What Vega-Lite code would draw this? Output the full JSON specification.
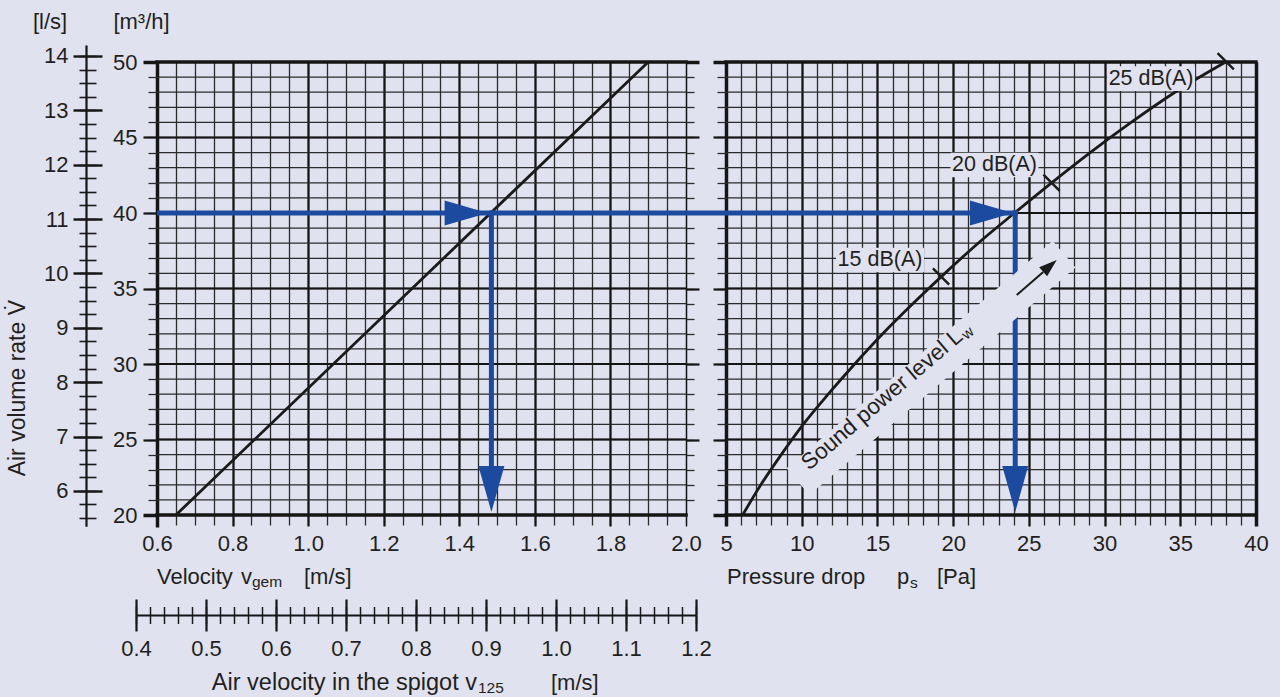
{
"$schema":"https://vega.github.io/schema/vega-lite/v6.json",
"background":"#e1e2f0",
"autosize":{"type":"none"},
"padding":{"left":157,"top":62,"right":24,"bottom":182},
"width":1099,"height":453,
"config":{"view":{"stroke":null},"axis":{"labelFont":"Liberation Sans","labelFontSize":22,"labelColor":"#231f20","labelFlush":false,"labelOverlap":false},"text":{"font":"Liberation Sans","fontSize":22,"color":"#231f20"}},
"resolve":{"scale":{"x":"independent","y":"independent"},"axis":{"x":"independent","y":"independent"}},
"layer":[
{"data":{"values":[{"m3h":20},{"m3h":21},{"m3h":22},{"m3h":23},{"m3h":24},{"m3h":25},{"m3h":26},{"m3h":27},{"m3h":28},{"m3h":29},{"m3h":30},{"m3h":31},{"m3h":32},{"m3h":33},{"m3h":34},{"m3h":35},{"m3h":36},{"m3h":37},{"m3h":38},{"m3h":39},{"m3h":40},{"m3h":41},{"m3h":42},{"m3h":43},{"m3h":44},{"m3h":45},{"m3h":46},{"m3h":47},{"m3h":48},{"m3h":49},{"m3h":50}]},"mark":{"type":"rule","color":"#2b2b2b","strokeWidth":1.3},"encoding":{"y":{"field":"m3h","type":"quantitative","scale":{"domain":[20,50],"nice":false,"zero":false},"axis":null},"x":{"datum":0.6,"type":"quantitative","scale":{"domain":[0.6,2.0],"range":[0,529],"nice":false,"zero":false},"axis":null},"x2":{"datum":2.0}}},
{"data":{"values":[{"m3h":25},{"m3h":30},{"m3h":35},{"m3h":40},{"m3h":45}]},"mark":{"type":"rule","color":"#151515","strokeWidth":2.2},"encoding":{"y":{"field":"m3h","type":"quantitative","scale":{"domain":[20,50],"nice":false,"zero":false},"axis":null},"x":{"datum":0.6,"type":"quantitative","scale":{"domain":[0.6,2.0],"range":[0,529],"nice":false,"zero":false},"axis":null},"x2":{"datum":2.0}}},
{"data":{"values":[{"m3h":20},{"m3h":50}]},"mark":{"type":"rule","color":"#151515","strokeWidth":3.5,"strokeCap":"square"},"encoding":{"y":{"field":"m3h","type":"quantitative","scale":{"domain":[20,50],"nice":false,"zero":false},"axis":null},"x":{"datum":0.6,"type":"quantitative","scale":{"domain":[0.6,2.0],"range":[0,529],"nice":false,"zero":false},"axis":null},"x2":{"datum":2.0}}},
{"data":{"values":[{"m3h":20},{"m3h":21},{"m3h":22},{"m3h":23},{"m3h":24},{"m3h":25},{"m3h":26},{"m3h":27},{"m3h":28},{"m3h":29},{"m3h":30},{"m3h":31},{"m3h":32},{"m3h":33},{"m3h":34},{"m3h":35},{"m3h":36},{"m3h":37},{"m3h":38},{"m3h":39},{"m3h":40},{"m3h":41},{"m3h":42},{"m3h":43},{"m3h":44},{"m3h":45},{"m3h":46},{"m3h":47},{"m3h":48},{"m3h":49},{"m3h":50}]},"mark":{"type":"rule","color":"#2b2b2b","strokeWidth":1.3},"encoding":{"y":{"field":"m3h","type":"quantitative","scale":{"domain":[20,50],"nice":false,"zero":false},"axis":null},"x":{"datum":5,"type":"quantitative","scale":{"domain":[5,40],"range":[569,1099],"nice":false,"zero":false},"axis":null},"x2":{"datum":40}}},
{"data":{"values":[{"m3h":25},{"m3h":30},{"m3h":35},{"m3h":40},{"m3h":45}]},"mark":{"type":"rule","color":"#151515","strokeWidth":2.2},"encoding":{"y":{"field":"m3h","type":"quantitative","scale":{"domain":[20,50],"nice":false,"zero":false},"axis":null},"x":{"datum":5,"type":"quantitative","scale":{"domain":[5,40],"range":[569,1099],"nice":false,"zero":false},"axis":null},"x2":{"datum":40}}},
{"data":{"values":[{"m3h":20},{"m3h":50}]},"mark":{"type":"rule","color":"#151515","strokeWidth":3.5,"strokeCap":"square"},"encoding":{"y":{"field":"m3h","type":"quantitative","scale":{"domain":[20,50],"nice":false,"zero":false},"axis":null},"x":{"datum":5,"type":"quantitative","scale":{"domain":[5,40],"range":[569,1099],"nice":false,"zero":false},"axis":null},"x2":{"datum":40}}},
{"data":{"values":[{}]},"mark":{"type":"point","opacity":0},"encoding":{"x":{"field":"vel","type":"quantitative","scale":{"domain":[0.6,2.0],"range":[0,529],"nice":false,"zero":false},"axis":{"orient":"bottom","values":[0.6,0.65,0.7,0.75,0.8,0.85,0.9,0.95,1.0,1.05,1.1,1.15,1.2,1.25,1.3,1.35,1.4,1.45,1.5,1.55,1.6,1.65,1.7,1.75,1.8,1.85,1.9,1.95,2.0],"grid":true,"gridColor":"#2b2b2b","gridWidth":1.3,"tickSize":10,"tickColor":"#2b2b2b","tickWidth":1.3,"labels":false,"domain":false,"title":null}}}},
{"data":{"values":[{}]},"mark":{"type":"point","opacity":0},"encoding":{"x":{"field":"vel","type":"quantitative","scale":{"domain":[0.6,2.0],"range":[0,529],"nice":false,"zero":false},"axis":{"orient":"bottom","values":[0.6,0.8,1.0,1.2,1.4,1.6,1.8,2.0],"grid":true,"gridColor":"#151515","gridWidth":{"condition":{"test":"datum.value > 1.99","value":1.3},"value":2.2},"tickSize":11,"tickColor":"#151515","tickWidth":{"condition":{"test":"datum.value > 1.99","value":1.3},"value":2.2},"labels":true,"format":".1f","labelPadding":7,"domain":false,"title":null}}}},
{"data":{"values":[{}]},"mark":{"type":"point","opacity":0},"encoding":{"x":{"field":"vel","type":"quantitative","scale":{"domain":[0.6,2.0],"range":[0,529],"nice":false,"zero":false},"axis":{"orient":"bottom","values":[0.6],"grid":true,"gridColor":"#151515","gridWidth":3.5,"tickSize":12,"tickColor":"#151515","tickWidth":3.5,"labels":false,"domain":false,"title":null}}}},
{"data":{"values":[{}]},"mark":{"type":"point","opacity":0},"encoding":{"x":{"field":"p","type":"quantitative","scale":{"domain":[5,40],"range":[569,1099],"nice":false,"zero":false},"axis":{"orient":"bottom","values":[5,6,7,8,9,10,11,12,13,14,15,16,17,18,19,20,21,22,23,24,25,26,27,28,29,30,31,32,33,34,35,36,37,38,39,40],"grid":true,"gridColor":"#2b2b2b","gridWidth":1.3,"tickSize":10,"tickColor":"#2b2b2b","tickWidth":1.3,"labels":false,"domain":false,"title":null}}}},
{"data":{"values":[{}]},"mark":{"type":"point","opacity":0},"encoding":{"x":{"field":"p","type":"quantitative","scale":{"domain":[5,40],"range":[569,1099],"nice":false,"zero":false},"axis":{"orient":"bottom","values":[5,10,15,20,25,30,35,40],"grid":true,"gridColor":"#151515","gridWidth":{"condition":{"test":"datum.value == 5 || datum.value == 40","value":3.5},"value":2.2},"tickSize":11,"tickColor":"#151515","tickWidth":{"condition":{"test":"datum.value == 5 || datum.value == 40","value":3.5},"value":2.2},"labels":true,"format":"d","labelPadding":7,"domain":false,"title":null}}}},
{"data":{"values":[{}]},"mark":{"type":"point","opacity":0},"encoding":{"y":{"field":"m3h","type":"quantitative","scale":{"domain":[20,50],"nice":false,"zero":false},"axis":{"orient":"left","values":[20,21,22,23,24,25,26,27,28,29,30,31,32,33,34,35,36,37,38,39,40,41,42,43,44,45,46,47,48,49,50],"grid":false,"tickSize":9,"tickColor":"#2b2b2b","tickWidth":1.3,"labels":false,"domain":false,"title":null}}}},
{"data":{"values":[{}]},"mark":{"type":"point","opacity":0},"encoding":{"y":{"field":"m3h","type":"quantitative","scale":{"domain":[20,50],"nice":false,"zero":false},"axis":{"orient":"left","values":[20,25,30,35,40,45,50],"grid":false,"tickSize":14,"tickColor":"#151515","tickWidth":{"condition":{"test":"datum.value == 20 || datum.value == 50","value":3.5},"value":2.2},"labels":true,"format":"d","labelPadding":6,"domain":false,"title":null}}}},
{"data":{"values":[{}]},"mark":{"type":"point","opacity":0},"encoding":{"y":{"field":"m3h","type":"quantitative","scale":{"domain":[20,50],"nice":false,"zero":false},"axis":{"orient":"right","offset":-570,"values":[21,22,23,24,25,26,27,28,29,30,31,32,33,34,35,36,37,38,39,40,41,42,43,44,45,46,47,48,49,50],"grid":false,"tickSize":8,"tickColor":"#2b2b2b","tickWidth":1.3,"labels":false,"domain":false,"title":null}}}},
{"data":{"values":[{}]},"mark":{"type":"point","opacity":0},"encoding":{"y":{"field":"m3h","type":"quantitative","scale":{"domain":[20,50],"nice":false,"zero":false},"axis":{"orient":"right","offset":-570,"values":[25,30,35,40,45,50],"grid":false,"tickSize":13,"tickColor":"#151515","tickWidth":{"condition":{"test":"datum.value == 50","value":3.5},"value":2.2},"labels":false,"domain":false,"title":null}}}},
{"data":{"values":[{}]},"mark":{"type":"point","opacity":0},"encoding":{"y":{"field":"m3h","type":"quantitative","scale":{"domain":[20,50],"nice":false,"zero":false},"axis":{"orient":"left","offset":-569,"values":[20,21,22,23,24,25,26,27,28,29,30,31,32,33,34,35,36,37,38,39,40,41,42,43,44,45,46,47,48,49,50],"grid":false,"tickSize":9,"tickColor":"#2b2b2b","tickWidth":1.3,"labels":false,"domain":false,"title":null}}}},
{"data":{"values":[{}]},"mark":{"type":"point","opacity":0},"encoding":{"y":{"field":"m3h","type":"quantitative","scale":{"domain":[20,50],"nice":false,"zero":false},"axis":{"orient":"left","offset":-569,"values":[20,25,30,35,40,45,50],"grid":false,"tickSize":13,"tickColor":"#151515","tickWidth":{"condition":{"test":"datum.value == 20 || datum.value == 50","value":3.5},"value":2.2},"labels":false,"domain":false,"title":null}}}},
{"data":{"values":[{}]},"mark":{"type":"point","opacity":0},"encoding":{"y":{"field":"ls","type":"quantitative","scale":{"domain":[5.35,14.2],"range":[464.2,-16.9],"nice":false,"zero":false},"axis":{"orient":"left","offset":71,"values":[6,7,8,9,10,11,12,13,14],"grid":false,"tickSize":13,"tickColor":"#151515","tickWidth":2.4,"labels":true,"format":"d","labelPadding":5,"domain":true,"domainColor":"#151515","domainWidth":2.2,"title":null}}}},
{"data":{"values":[{}]},"mark":{"type":"point","opacity":0},"encoding":{"y":{"field":"ls","type":"quantitative","scale":{"domain":[5.35,14.2],"range":[464.2,-16.9],"nice":false,"zero":false},"axis":{"orient":"left","offset":71,"values":[6,7,8,9,10,11,12,13,14],"grid":false,"tickSize":-16,"tickColor":"#151515","tickWidth":2.4,"labels":false,"domain":false,"title":null}}}},
{"data":{"values":[{}]},"mark":{"type":"point","opacity":0},"encoding":{"y":{"field":"ls","type":"quantitative","scale":{"domain":[5.35,14.2],"range":[464.2,-16.9],"nice":false,"zero":false},"axis":{"orient":"left","offset":71,"values":[5.5,5.75,6,6.25,6.5,6.75,7,7.25,7.5,7.75,8,8.25,8.5,8.75,9,9.25,9.5,9.75,10,10.25,10.5,10.75,11,11.25,11.5,11.75,12,12.25,12.5,12.75,13,13.25,13.5,13.75,14],"grid":false,"tickSize":7,"tickColor":"#1a1a1a","tickWidth":1.6,"labels":false,"domain":false,"title":null}}}},
{"data":{"values":[{}]},"mark":{"type":"point","opacity":0},"encoding":{"y":{"field":"ls","type":"quantitative","scale":{"domain":[5.35,14.2],"range":[464.2,-16.9],"nice":false,"zero":false},"axis":{"orient":"left","offset":71,"values":[5.5,5.75,6,6.25,6.5,6.75,7,7.25,7.5,7.75,8,8.25,8.5,8.75,9,9.25,9.5,9.75,10,10.25,10.5,10.75,11,11.25,11.5,11.75,12,12.25,12.5,12.75,13,13.25,13.5,13.75,14],"grid":false,"tickSize":-10,"tickColor":"#1a1a1a","tickWidth":1.6,"labels":false,"domain":false,"title":null}}}},
{"data":{"values":[{}]},"mark":{"type":"point","opacity":0},"encoding":{"x":{"field":"spg","type":"quantitative","scale":{"domain":[0.4,1.2],"range":[-21,539],"nice":false,"zero":false},"axis":{"orient":"bottom","offset":100,"values":[0.4,0.5,0.6,0.7,0.8,0.9,1.0,1.1,1.2],"grid":false,"tickSize":16,"tickColor":"#151515","tickWidth":2.2,"labels":true,"format":".1f","labelPadding":7,"domain":true,"domainColor":"#151515","domainWidth":2.2,"title":null}}}},
{"data":{"values":[{}]},"mark":{"type":"point","opacity":0},"encoding":{"x":{"field":"spg","type":"quantitative","scale":{"domain":[0.4,1.2],"range":[-21,539],"nice":false,"zero":false},"axis":{"orient":"bottom","offset":100,"values":[0.4,0.5,0.6,0.7,0.8,0.9,1.0,1.1,1.2],"grid":false,"tickSize":-16,"tickColor":"#151515","tickWidth":2.2,"labels":false,"domain":false,"title":null}}}},
{"data":{"values":[{}]},"mark":{"type":"point","opacity":0},"encoding":{"x":{"field":"spg","type":"quantitative","scale":{"domain":[0.4,1.2],"range":[-21,539],"nice":false,"zero":false},"axis":{"orient":"bottom","offset":100,"values":[0.4,0.42,0.44,0.46,0.48,0.5,0.52,0.54,0.56,0.58,0.6,0.62,0.64,0.66,0.68,0.7,0.72,0.74,0.76,0.78,0.8,0.82,0.84,0.86,0.88,0.9,0.92,0.94,0.96,0.98,1.0,1.02,1.04,1.06,1.08,1.1,1.12,1.14,1.16,1.18,1.2],"grid":false,"tickSize":8.5,"tickColor":"#1a1a1a","tickWidth":1.5,"labels":false,"domain":false,"title":null}}}},
{"data":{"values":[{}]},"mark":{"type":"point","opacity":0},"encoding":{"x":{"field":"spg","type":"quantitative","scale":{"domain":[0.4,1.2],"range":[-21,539],"nice":false,"zero":false},"axis":{"orient":"bottom","offset":100,"values":[0.4,0.42,0.44,0.46,0.48,0.5,0.52,0.54,0.56,0.58,0.6,0.62,0.64,0.66,0.68,0.7,0.72,0.74,0.76,0.78,0.8,0.82,0.84,0.86,0.88,0.9,0.92,0.94,0.96,0.98,1.0,1.02,1.04,1.06,1.08,1.1,1.12,1.14,1.16,1.18,1.2],"grid":false,"tickSize":-8.5,"tickColor":"#1a1a1a","tickWidth":1.5,"labels":false,"domain":false,"title":null}}}},
{"data":{"values":[{"vel":0.65,"m3h":20},{"vel":1.9,"m3h":50}]},"mark":{"type":"line","color":"#1a1a1a","strokeWidth":2.8},"encoding":{"x":{"field":"vel","type":"quantitative","scale":{"domain":[0.6,2.0],"range":[0,529],"nice":false,"zero":false},"axis":null},"y":{"field":"m3h","type":"quantitative","scale":{"domain":[20,50],"nice":false,"zero":false},"axis":null}}},
{"data":{"values":[{"p":6.1,"m3h":20},{"p":7.3,"m3h":22},{"p":8.65,"m3h":24},{"p":10.1,"m3h":26},{"p":11.75,"m3h":28},{"p":13.5,"m3h":30},{"p":15.35,"m3h":32},{"p":17.35,"m3h":34},{"p":19.45,"m3h":36},{"p":21.65,"m3h":38},{"p":24.05,"m3h":40},{"p":26.5,"m3h":42},{"p":29.05,"m3h":44},{"p":31.75,"m3h":46},{"p":34.65,"m3h":48},{"p":38.0,"m3h":50}]},"mark":{"type":"line","color":"#1a1a1a","strokeWidth":2.8,"interpolate":"monotone"},"encoding":{"x":{"field":"p","type":"quantitative","scale":{"domain":[5,40],"range":[569,1099],"nice":false,"zero":false},"axis":null},"y":{"field":"m3h","type":"quantitative","scale":{"domain":[20,50],"nice":false,"zero":false},"axis":null}}},
{"data":{"values":[{"vel":0.6,"vel2":2.0,"m3h":40}]},"mark":{"type":"rule","color":"#1c4a9f","strokeWidth":5,"strokeCap":"butt"},"encoding":{"x":{"field":"vel","type":"quantitative","scale":{"domain":[0.6,2.0],"range":[0,529],"nice":false,"zero":false},"axis":null},"x2":{"field":"vel2"},"y":{"field":"m3h","type":"quantitative","scale":{"domain":[20,50],"nice":false,"zero":false},"axis":null}}},
{"data":{"values":[{"p":2.358,"p2":24.265,"m3h":40}]},"mark":{"type":"rule","color":"#1c4a9f","strokeWidth":5,"strokeCap":"butt"},"encoding":{"x":{"field":"p","type":"quantitative","scale":{"domain":[5,40],"range":[569,1099],"nice":false,"zero":false},"axis":null},"x2":{"field":"p2"},"y":{"field":"m3h","type":"quantitative","scale":{"domain":[20,50],"nice":false,"zero":false},"axis":null}}},
{"data":{"values":[{"vel":1.485,"m3h":40.17,"m3h2":22.5}]},"mark":{"type":"rule","color":"#1c4a9f","strokeWidth":5,"strokeCap":"butt"},"encoding":{"x":{"field":"vel","type":"quantitative","scale":{"domain":[0.6,2.0],"range":[0,529],"nice":false,"zero":false},"axis":null},"y":{"field":"m3h","type":"quantitative","scale":{"domain":[20,50],"nice":false,"zero":false},"axis":null},"y2":{"field":"m3h2"}}},
{"data":{"values":[{"p":24.1,"m3h":40.17,"m3h2":22.5}]},"mark":{"type":"rule","color":"#1c4a9f","strokeWidth":5,"strokeCap":"butt"},"encoding":{"x":{"field":"p","type":"quantitative","scale":{"domain":[5,40],"range":[569,1099],"nice":false,"zero":false},"axis":null},"y":{"field":"m3h","type":"quantitative","scale":{"domain":[20,50],"nice":false,"zero":false},"axis":null},"y2":{"field":"m3h2"}}},
{"data":{"values":[{"vel":1.475,"m3h":40}]},"mark":{"type":"point","shape":"M 0 0 L -2 -0.58 L -2 0.58 Z","size":1849,"filled":true,"color":"#1c4a9f","opacity":1,"strokeWidth":0},"encoding":{"x":{"field":"vel","type":"quantitative","scale":{"domain":[0.6,2.0],"range":[0,529],"nice":false,"zero":false},"axis":null},"y":{"field":"m3h","type":"quantitative","scale":{"domain":[20,50],"nice":false,"zero":false},"axis":null}}},
{"data":{"values":[{"vel":1.485,"m3h":20.2}]},"mark":{"type":"point","shape":"M 0 0 L -0.565 -2 L 0.565 -2 Z","size":2116,"filled":true,"color":"#1c4a9f","opacity":1,"strokeWidth":0},"encoding":{"x":{"field":"vel","type":"quantitative","scale":{"domain":[0.6,2.0],"range":[0,529],"nice":false,"zero":false},"axis":null},"y":{"field":"m3h","type":"quantitative","scale":{"domain":[20,50],"nice":false,"zero":false},"axis":null}}},
{"data":{"values":[{"p":23.95,"m3h":40}]},"mark":{"type":"point","shape":"M 0 0 L -2 -0.58 L -2 0.58 Z","size":1849,"filled":true,"color":"#1c4a9f","opacity":1,"strokeWidth":0},"encoding":{"x":{"field":"p","type":"quantitative","scale":{"domain":[5,40],"range":[569,1099],"nice":false,"zero":false},"axis":null},"y":{"field":"m3h","type":"quantitative","scale":{"domain":[20,50],"nice":false,"zero":false},"axis":null}}},
{"data":{"values":[{"p":24.1,"m3h":20.2}]},"mark":{"type":"point","shape":"M 0 0 L -0.565 -2 L 0.565 -2 Z","size":2116,"filled":true,"color":"#1c4a9f","opacity":1,"strokeWidth":0},"encoding":{"x":{"field":"p","type":"quantitative","scale":{"domain":[5,40],"range":[569,1099],"nice":false,"zero":false},"axis":null},"y":{"field":"m3h","type":"quantitative","scale":{"domain":[20,50],"nice":false,"zero":false},"axis":null}}},
{"data":{"values":[{"p":18.54,"m3h":29.74}]},"mark":{"type":"point","shape":"M -1 -0.1 L 1 -0.1 L 1 0.1 L -1 0.1 Z","size":122500,"angle":-40.5,"filled":true,"color":"#e1e2f0","opacity":1,"strokeWidth":0},"encoding":{"x":{"field":"p","type":"quantitative","scale":{"domain":[5,40],"range":[569,1099],"nice":false,"zero":false},"axis":null},"y":{"field":"m3h","type":"quantitative","scale":{"domain":[20,50],"nice":false,"zero":false},"axis":null}}},
{"data":{"values":[{"p":33.07,"m3h":48.9},{"p":22.73,"m3h":43.18},{"p":15.17,"m3h":36.89}]},"mark":{"type":"point","shape":"M -1 -0.28 L 1 -0.28 L 1 0.28 L -1 0.28 Z","size":7744,"filled":true,"color":"#e1e2f0","opacity":1,"strokeWidth":0},"encoding":{"x":{"field":"p","type":"quantitative","scale":{"domain":[5,40],"range":[569,1099],"nice":false,"zero":false},"axis":null},"y":{"field":"m3h","type":"quantitative","scale":{"domain":[20,50],"nice":false,"zero":false},"axis":null}}},
{"data":{"values":[{"p":33.07,"m3h":48.9,"t":"25 dB(A)"},{"p":22.73,"m3h":43.18,"t":"20 dB(A)"},{"p":15.17,"m3h":36.89,"t":"15 dB(A)"}]},"mark":{"type":"text","align":"center","baseline":"middle","fontSize":21.5},"encoding":{"x":{"field":"p","type":"quantitative","scale":{"domain":[5,40],"range":[569,1099],"nice":false,"zero":false},"axis":null},"y":{"field":"m3h","type":"quantitative","scale":{"domain":[20,50],"nice":false,"zero":false},"axis":null},"text":{"field":"t"}}},
{"data":{"values":[{"p":19.2,"m3h":35.8},{"p":26.5,"m3h":42.0},{"p":38.0,"m3h":50.05}]},"mark":{"type":"point","shape":"M 0 -1 L 0 1","size":529,"angle":-45,"filled":false,"stroke":"#1a1a1a","strokeWidth":2.4,"opacity":1},"encoding":{"x":{"field":"p","type":"quantitative","scale":{"domain":[5,40],"range":[569,1099],"nice":false,"zero":false},"axis":null},"y":{"field":"m3h","type":"quantitative","scale":{"domain":[20,50],"nice":false,"zero":false},"axis":null}}},
{"data":{"values":[{"p":24.2,"m3h":34.57,"p2":25.95,"m3h2":36.1}]},"mark":{"type":"rule","color":"#1a1a1a","strokeWidth":2},"encoding":{"x":{"field":"p","type":"quantitative","scale":{"domain":[5,40],"range":[569,1099],"nice":false,"zero":false},"axis":null},"y":{"field":"m3h","type":"quantitative","scale":{"domain":[20,50],"nice":false,"zero":false},"axis":null},"x2":{"field":"p2"},"y2":{"field":"m3h2"}}},
{"data":{"values":[{"p":26.84,"m3h":36.89}]},"mark":{"type":"point","shape":"M 0 0 L -2 -0.67 L -2 0.67 Z","size":324,"angle":-41,"filled":true,"color":"#1a1a1a","opacity":1,"strokeWidth":0},"encoding":{"x":{"field":"p","type":"quantitative","scale":{"domain":[5,40],"range":[569,1099],"nice":false,"zero":false},"axis":null},"y":{"field":"m3h","type":"quantitative","scale":{"domain":[20,50],"nice":false,"zero":false},"axis":null}}},
{"data":{"values":[{"p":10.48,"m3h":22.91,"t":"Sound power level L"}]},"mark":{"type":"text","align":"left","baseline":"alphabetic","fontSize":22.5,"angle":-40.5},"encoding":{"x":{"field":"p","type":"quantitative","scale":{"domain":[5,40],"range":[569,1099],"nice":false,"zero":false},"axis":null},"y":{"field":"m3h","type":"quantitative","scale":{"domain":[20,50],"nice":false,"zero":false},"axis":null},"text":{"field":"t"}}},
{"data":{"values":[{"p":10.48,"m3h":22.91,"t":"w"}]},"mark":{"type":"text","align":"left","baseline":"alphabetic","fontSize":15,"angle":-40.5,"dx":205,"dy":3},"encoding":{"x":{"field":"p","type":"quantitative","scale":{"domain":[5,40],"range":[569,1099],"nice":false,"zero":false},"axis":null},"y":{"field":"m3h","type":"quantitative","scale":{"domain":[20,50],"nice":false,"zero":false},"axis":null},"text":{"field":"t"}}},
{"data":{"values":[{"p":5.066,"m3h":15.43,"t":"Pressure drop"},{"p":16.29,"m3h":15.43,"t":"p"},{"p":18.93,"m3h":15.43,"t":"[Pa]"}]},"mark":{"type":"text","align":"left","baseline":"alphabetic","fontSize":22},"encoding":{"x":{"field":"p","type":"quantitative","scale":{"domain":[5,40],"range":[569,1099],"nice":false,"zero":false},"axis":null},"y":{"field":"m3h","type":"quantitative","scale":{"domain":[20,50],"nice":false,"zero":false},"axis":null},"text":{"field":"t"}}},
{"data":{"values":[{"p":17.15,"m3h":15.43,"t":"s"}]},"mark":{"type":"text","align":"left","baseline":"alphabetic","fontSize":15.5,"dy":4},"encoding":{"x":{"field":"p","type":"quantitative","scale":{"domain":[5,40],"range":[569,1099],"nice":false,"zero":false},"axis":null},"y":{"field":"m3h","type":"quantitative","scale":{"domain":[20,50],"nice":false,"zero":false},"axis":null},"text":{"field":"t"}}},
{"data":{"values":[{"vel":0.317,"m3h":52.65,"t":"[l/s]"},{"vel":0.559,"m3h":52.65,"t":"[m³/h]"}]},"mark":{"type":"text","align":"center","baseline":"middle","fontSize":22},"encoding":{"x":{"field":"vel","type":"quantitative","scale":{"domain":[0.6,2.0],"range":[0,529],"nice":false,"zero":false},"axis":null},"y":{"field":"m3h","type":"quantitative","scale":{"domain":[20,50],"nice":false,"zero":false},"axis":null},"text":{"field":"t"}}},
{"data":{"values":[{"vel":0.232,"m3h":28.4,"t":"Air volume rate V̇"}]},"mark":{"type":"text","align":"center","baseline":"middle","fontSize":23,"angle":-90},"encoding":{"x":{"field":"vel","type":"quantitative","scale":{"domain":[0.6,2.0],"range":[0,529],"nice":false,"zero":false},"axis":null},"y":{"field":"m3h","type":"quantitative","scale":{"domain":[20,50],"nice":false,"zero":false},"axis":null},"text":{"field":"t"}}},
{"data":{"values":[{"vel":0.6,"m3h":15.43,"t":"Velocity"},{"vel":0.8223,"m3h":15.43,"t":"v"},{"vel":0.989,"m3h":15.43,"t":"[m/s]"},{"vel":1.6427,"m3h":8.41,"t":"[m/s]"}]},"mark":{"type":"text","align":"left","baseline":"alphabetic","fontSize":22},"encoding":{"x":{"field":"vel","type":"quantitative","scale":{"domain":[0.6,2.0],"range":[0,529],"nice":false,"zero":false},"axis":null},"y":{"field":"m3h","type":"quantitative","scale":{"domain":[20,50],"nice":false,"zero":false},"axis":null},"text":{"field":"t"}}},
{"data":{"values":[{"vel":1.4469,"m3h":8.41,"t":"Air velocity in the spigot v"}]},"mark":{"type":"text","align":"right","baseline":"alphabetic","fontSize":23.5},"encoding":{"x":{"field":"vel","type":"quantitative","scale":{"domain":[0.6,2.0],"range":[0,529],"nice":false,"zero":false},"axis":null},"y":{"field":"m3h","type":"quantitative","scale":{"domain":[20,50],"nice":false,"zero":false},"axis":null},"text":{"field":"t"}}},
{"data":{"values":[{"vel":0.8514,"m3h":15.43,"t":"gem"},{"vel":1.4495,"m3h":8.41,"t":"125"}]},"mark":{"type":"text","align":"left","baseline":"alphabetic","fontSize":15.5,"dy":3},"encoding":{"x":{"field":"vel","type":"quantitative","scale":{"domain":[0.6,2.0],"range":[0,529],"nice":false,"zero":false},"axis":null},"y":{"field":"m3h","type":"quantitative","scale":{"domain":[20,50],"nice":false,"zero":false},"axis":null},"text":{"field":"t"}}}
]
}
